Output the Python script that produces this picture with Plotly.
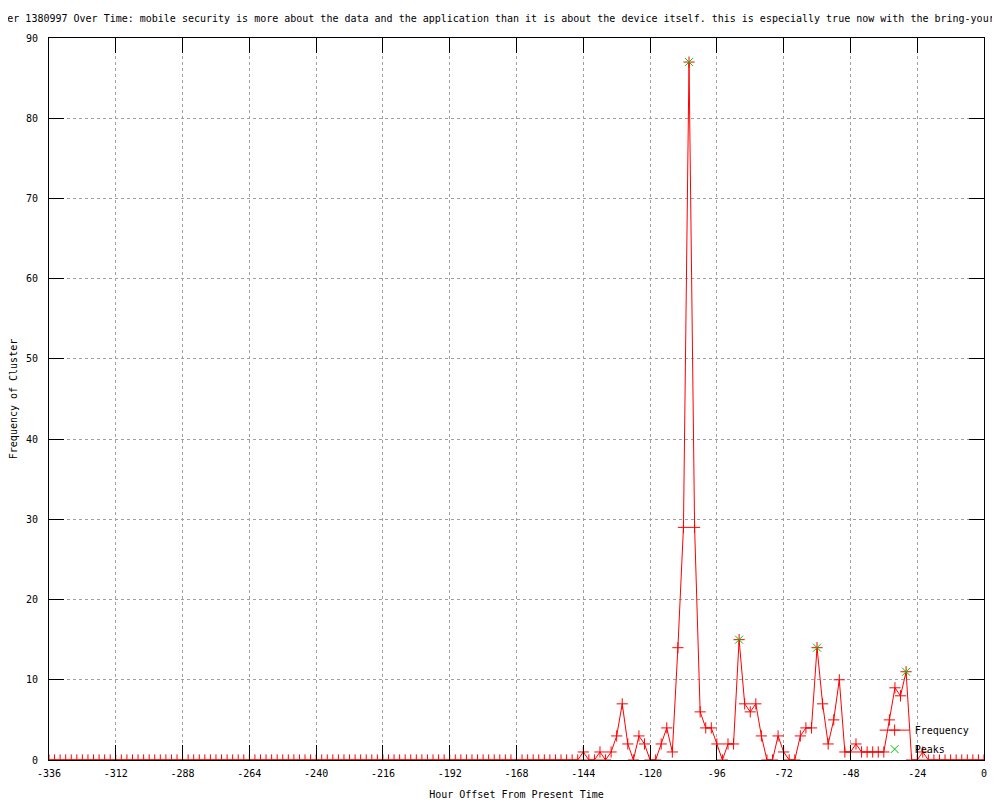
import plotly.graph_objs as go

# hours before now, sampled every 2 hours
hours = list(range(-336, 1, 2))

frequency = [0] * 96 + [
    1, 0, 0, 1, 0, 1, 3, 7, 2, 0,      # -144 .. -126
    3, 2, 0, 0, 2, 4, 1, 14, 29, 87,   # -124 .. -106
    29, 6, 4, 4, 2, 0, 2, 2, 15, 7,    # -104 .. -86
    6, 7, 3, 0, 0, 3, 1, 0, 0, 3,      # -84 .. -66
    4, 4, 14, 7, 2, 5, 10, 1, 1, 2,    # -64 .. -46
    1, 1, 1, 1, 1, 5, 9, 8, 11, 0,     # -44 .. -26
    0, 1, 0, 0, 0, 0, 0, 0, 0, 0,      # -24 .. -6
    0, 0, 0,                           # -4 .. 0
]

peak_hours = [-106, -88, -60, -28]
peak_values = [87, 15, 14, 11]

x_ticks = list(range(-336, 1, 24))
x_labels = [str(v) for v in x_ticks]
y_ticks = list(range(0, 91, 10))

title = ('Cluster 1380997 Over Time: mobile security is more about the data and the '
         'application than it is about the device itself. this is especially true now '
         'with the bring-your-own-d')

mono = 'DejaVu Sans Mono'
red = 'rgb(255, 0, 0)'
green = 'rgb(0, 200, 0)'

# the page body has an 8px margin, so the figure is a bit smaller and shifted
W, H = 992, 792

traces = [
    go.Scatter(
        name='Frequency',
        x=hours,
        y=frequency,
        mode='lines+markers',
        line=dict(color=red, width=1),
        marker=dict(
            symbol='cross-thin-open',
            size=8,
            color=red,
            line=dict(color=red, width=1),
            ),
        ),
    go.Scatter(
        name='Peaks',
        x=peak_hours,
        y=peak_values,
        mode='markers',
        marker=dict(
            symbol='x-thin-open',
            size=8,
            color=green,
            line=dict(color=green, width=1),
            ),
        ),
    ]

axis_common = dict(
    showline=True,
    linecolor='black',
    linewidth=1,
    mirror='ticks',
    ticks='inside',
    ticklen=15,
    tickcolor='black',
    tickwidth=1,
    showgrid=True,
    gridcolor='rgb(160, 160, 160)',
    griddash='dot',
    gridwidth=1,
    zeroline=False,
    automargin=False,
    tickfont=dict(family=mono, size=10, color='black'),
    )

layout = go.Layout(
    width=W,
    height=H,
    paper_bgcolor='white',
    plot_bgcolor='white',
    margin=dict(l=41, r=16, t=30, b=40),
    font=dict(family=mono, size=10, color='black'),
    title=dict(
        text=title,
        x=0.5,
        xanchor='center',
        y=1 - 10 / H,
        yanchor='middle',
        font=dict(family=mono, size=10, color='black'),
        ),
    xaxis=dict(
        axis_common,
        range=[-336, 0],
        tickvals=x_ticks,
        ticktext=x_labels,
        ticklabelstandoff=4,
        title=dict(text='Hour Offset From Present Time',
                   font=dict(family=mono, size=10)),
        ),
    yaxis=dict(
        axis_common,
        range=[0, 90],
        tickvals=y_ticks,
        ticklabelstandoff=8,
        title=dict(text='Frequency of Cluster',
                   font=dict(family=mono, size=10)),
        ),
    legend=dict(
        x=0.99,
        xanchor='right',
        y=-0.005,
        yanchor='bottom',
        bgcolor='rgba(0,0,0,0)',
        font=dict(family=mono, size=10),
        tracegroupgap=0,
        itemwidth=30,
        ),
    )

fig = go.Figure(data=traces, layout=layout)
fig.write_html('out.html')
